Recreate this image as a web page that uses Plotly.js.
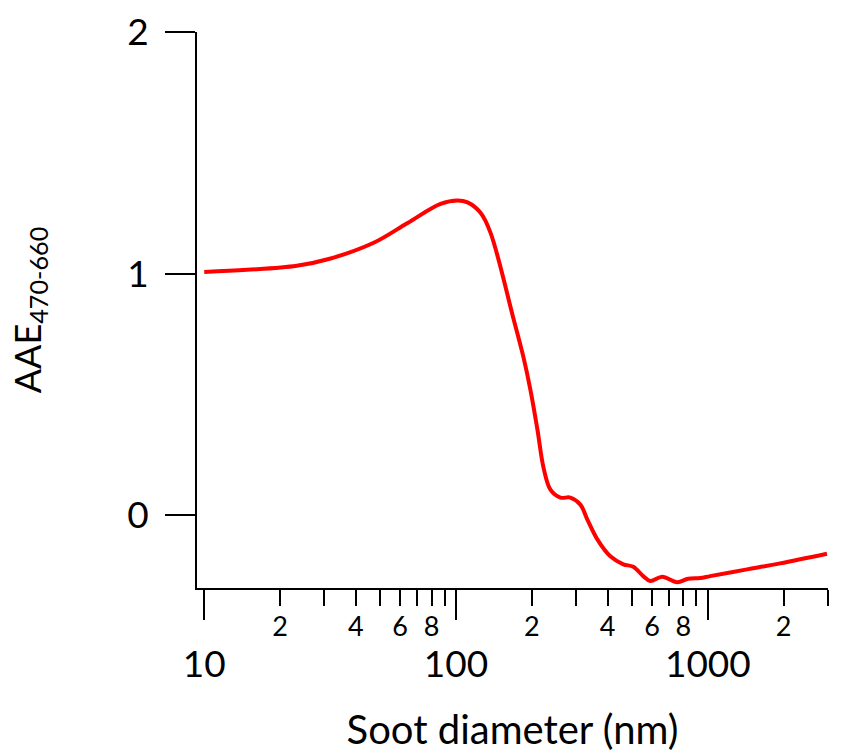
<!DOCTYPE html>
<html>
<head>
<meta charset="utf-8">
<script src="https://cdn.plot.ly/plotly-3.0.1.min.js"></script>
<style>html,body{margin:0;padding:0;background:#fff;}#chart{width:843px;height:753px;}</style>
</head>
<body>
<div id="chart"></div>
<script>
// Soot diameter (nm)
const diameter = [10, 14.8, 23.3, 31.5, 47.1, 64.2, 86.8, 101.4, 111.1, 125.1, 137.0, 169.0, 185.2, 197.4, 210.5, 222.3, 237.0, 259.7, 284.4, 311.7, 332.3, 364, 410, 461.5, 505.5, 553.8, 590.5, 658.9, 755.5, 835.5, 932.2, 1021, 1431, 1935, 2972];
// AAE 470-660
const aae = [1.007, 1.016, 1.033, 1.062, 1.128, 1.21, 1.289, 1.303, 1.295, 1.252, 1.17, 0.815, 0.655, 0.52, 0.355, 0.2, 0.107, 0.074, 0.074, 0.045, -0.017, -0.099, -0.169, -0.202, -0.212, -0.251, -0.271, -0.253, -0.276, -0.262, -0.259, -0.251, -0.223, -0.198, -0.158];

const minorTickVals = [20, 30, 40, 50, 60, 70, 80, 90, 200, 300, 400, 500, 600, 700, 800, 900, 2000, 3000];
const minorTickText = ["2", "", "4", "", "6", "", "8", "", "2", "", "4", "", "6", "", "8", "", "2", ""];
const majorTickVals = [10, 100, 1000];
const majorTickText = ["10", "100", "1000"];
const yTickVals = [0, 1, 2];
const yTickText = ["0", "1", "2"];

const FONT = "Lato, 'Open Sans', sans-serif";
const xRange = [Math.log10(9.36), Math.log10(3000)];

const traces = [{
  x: diameter, y: aae, type: 'scatter', mode: 'lines',
  line: {color: '#ff0000', width: 4, shape: 'spline', smoothing: 1},
  xaxis: 'x', yaxis: 'y', showlegend: false, hoverinfo: 'skip'
}, {
  x: diameter, y: aae, type: 'scatter', mode: 'none',
  xaxis: 'x2', yaxis: 'y', showlegend: false, hoverinfo: 'skip'
}];

const layout = {
  width: 843, height: 753,
  margin: {l: 197, r: 15, t: 32, b: 165, pad: 0},
  paper_bgcolor: '#fff', plot_bgcolor: '#fff',
  showlegend: false,
  font: {family: FONT, color: '#000'},
  xaxis: {
    type: 'log', range: xRange, fixedrange: true,
    showgrid: false, zeroline: false,
    showline: true, linecolor: '#000', linewidth: 2,
    ticks: 'outside', ticklen: 16, tickwidth: 2, tickcolor: '#000',
    tickmode: 'array', tickvals: minorTickVals, ticktext: minorTickText,
    tickfont: {family: FONT, size: 27, color: '#000'},
    ticklabelstandoff: -2,
    title: {text: 'Soot diameter (nm)', font: {family: FONT, size: 40, color: '#000'}, standoff: 80},
    automargin: false
  },
  xaxis2: {
    type: 'log', range: xRange, overlaying: 'x', anchor: 'y', side: 'bottom',
    fixedrange: true, showgrid: false, zeroline: false, showline: false,
    ticks: 'outside', ticklen: 31, tickwidth: 2, tickcolor: '#000',
    tickmode: 'array', tickvals: majorTickVals, ticktext: majorTickText,
    tickfont: {family: FONT, size: 37, color: '#000'},
    ticklabelstandoff: 13,
    automargin: false
  },
  yaxis: {
    range: [-0.3, 2], fixedrange: true,
    showgrid: false, zeroline: false,
    showline: true, linecolor: '#000', linewidth: 2,
    ticks: 'outside', ticklen: 30, tickwidth: 2, tickcolor: '#000',
    tickmode: 'array', tickvals: yTickVals, ticktext: yTickText,
    tickfont: {family: FONT, size: 37, color: '#000'},
    ticklabelstandoff: 9,
    title: {text: 'AAE<sub>470-660</sub>', font: {family: FONT, size: 36, color: '#000'}, standoff: 75},
    automargin: false
  }
};

Plotly.newPlot('chart', traces, layout, {staticPlot: true, displayModeBar: false});
</script>
</body>
</html>
